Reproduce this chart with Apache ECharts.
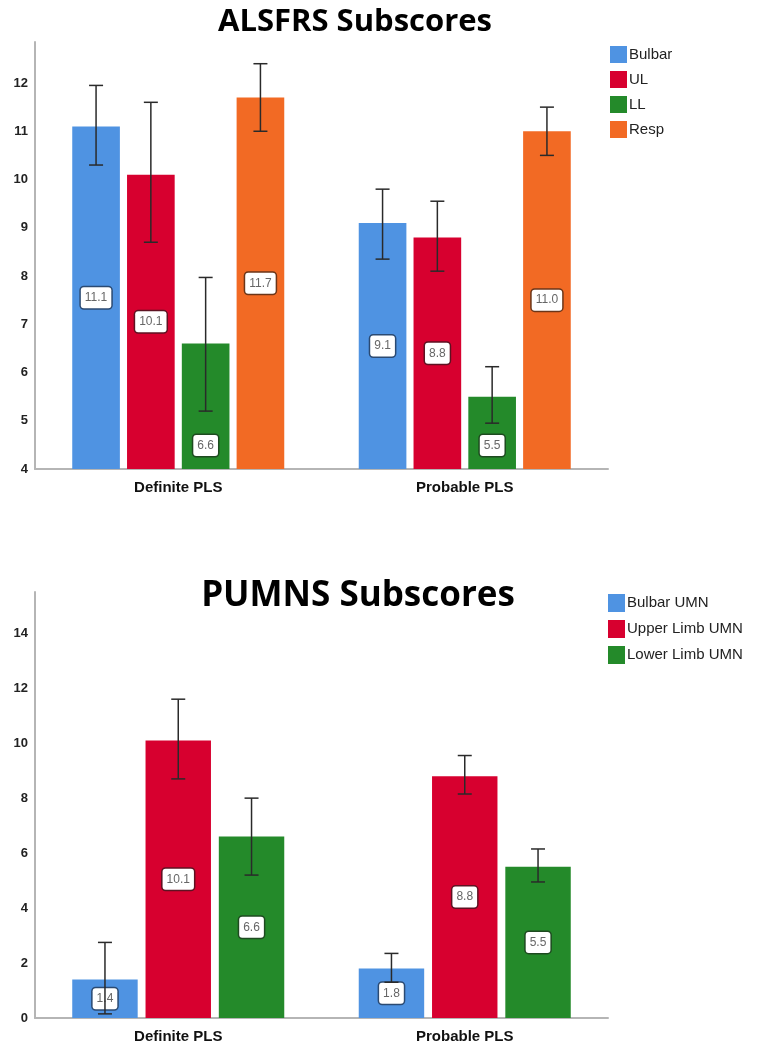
<!DOCTYPE html>
<html>
<head>
<meta charset="utf-8">
<script src="https://cdn.jsdelivr.net/npm/echarts@6/dist/echarts.min.js"></script>
<style>html,body{margin:0;padding:0;background:#fff}#c{width:777px;height:1060px}</style>
</head>
<body>
<div id="c"></div>
<script>
// ---- Data ----
const categories = ['Definite PLS', 'Probable PLS'];

// ALSFRS subscores (means)
const alsNames = ['Bulbar', 'UL', 'LL', 'Resp'];
const alsBulbar = [11.1, 9.1];
const alsUL = [10.1, 8.8];
const alsLL = [6.6, 5.5];
const alsResp = [11.7, 11.0];
// ALSFRS error bars [low, high]
const alsBulbarErr = [[10.3, 11.95], [8.35, 9.8]];
const alsULErr = [[8.7, 11.6], [8.1, 9.55]];
const alsLLErr = [[5.2, 7.97], [4.95, 6.12]];
const alsRespErr = [[11.0, 12.4], [10.5, 11.5]];
const alsTicks = [4, 5, 6, 7, 8, 9, 10, 11, 12];

// PUMNS subscores (means)
const pumNames = ['Bulbar UMN', 'Upper Limb UMN', 'Lower Limb UMN'];
const pumBulbar = [1.4, 1.8];
const pumUL = [10.1, 8.8];
const pumLL = [6.6, 5.5];
// PUMNS error bars [low, high]
const pumBulbarErr = [[0.15, 2.75], [1.3, 2.35]];
const pumULErr = [[8.7, 11.6], [8.15, 9.55]];
const pumLLErr = [[5.2, 8.0], [4.95, 6.15]];
const pumTicks = [0, 2, 4, 6, 8, 10, 12, 14];

// ---- Styles ----
const colors = { blue: '#4f93e2', red: '#d7002f', green: '#248a2a', orange: '#f26a24' };
const borders = { blue: '#2b4a72', red: '#5e1222', green: '#1e4a20', orange: '#6b3518' };
const catGap = 0.26;

function barSeries(name, data, color, border, gi, extraLabel) {
  return {
    type: 'bar', name: name, data: data,
    xAxisIndex: gi, yAxisIndex: gi,
    barCategoryGap: '26%', barGap: gi === 0 ? '15%' : '12%',
    itemStyle: { color: color },
    z: 2,
    label: Object.assign({
      show: true, position: 'inside',
      formatter: p => p.value.toFixed(1),
      color: '#666', fontSize: 12, fontFamily: 'Liberation Sans, Arial',
      backgroundColor: '#fff', borderColor: border, borderWidth: 1.5,
      borderRadius: 3, padding: [5, 4, 4, 4]
    }, extraLabel || {})
  };
}

function errSeries(err, idx, n, barGap, gi) {
  return {
    type: 'custom', name: 'err' + gi + '_' + idx,
    xAxisIndex: gi, yAxisIndex: gi, z: 3,
    silent: true,
    encode: { x: 0, y: [1, 2] },
    data: err.map((d, i) => [i, d[0], d[1]]),
    renderItem: function (params, api) {
      const c = api.value(0);
      const lo = api.coord([c, api.value(1)]);
      const hi = api.coord([c, api.value(2)]);
      const bw = api.size([1, 0])[0];
      const avail = bw * (1 - catGap);
      const w = avail / (n + (n - 1) * barGap);
      const total = n * w + (n - 1) * w * barGap;
      const x = lo[0] - total / 2 + idx * w * (1 + barGap) + w / 2;
      const cap = 7;
      const st = { stroke: '#2a2a2a', lineWidth: 1.5 };
      return {
        type: 'group', children: [
          { type: 'line', shape: { x1: x, y1: lo[1], x2: x, y2: hi[1] }, style: st },
          { type: 'line', shape: { x1: x - cap, y1: lo[1], x2: x + cap, y2: lo[1] }, style: st },
          { type: 'line', shape: { x1: x - cap, y1: hi[1], x2: x + cap, y2: hi[1] }, style: st }
        ]
      };
    }
  };
}

const axisLine = { show: true, lineStyle: { color: '#b5b5b5', width: 2 } };

const option = {
  animation: false,
  backgroundColor: '#fff',
  title: [
    { text: 'ALSFRS Subscores', left: 350, top: 2, textAlign: 'center',
      textStyle: { fontFamily: 'Open Sans', fontWeight: 'bold', fontSize: 31, color: '#000' } },
    { text: 'PUMNS Subscores', left: 353, top: 574, textAlign: 'center',
      textStyle: { fontFamily: 'Open Sans', fontWeight: 'bold', fontSize: 35, color: '#000' } }
  ],
  legend: [
    { data: alsNames, orient: 'vertical', left: 605, top: 41, itemWidth: 17, itemHeight: 17, itemGap: 8,
      icon: 'rect', textStyle: { fontSize: 15, color: '#222', fontFamily: 'Liberation Sans, Arial', padding: [0, 0, 0, -3] } },
    { data: pumNames, orient: 'vertical', left: 603, top: 589, itemWidth: 17, itemHeight: 18, itemGap: 8,
      icon: 'rect', textStyle: { fontSize: 15, color: '#222', fontFamily: 'Liberation Sans, Arial', padding: [0, 0, 0, -3] } }
  ],
  grid: [
    { left: 35, right: 169, top: 42, bottom: 591 },
    { left: 35, right: 169, top: 592, bottom: 42 }
  ],
  xAxis: [0, 1].map(gi => ({
    type: 'category', gridIndex: gi, data: categories,
    axisLine: axisLine, axisTick: { show: false },
    axisLabel: { fontSize: 15, fontWeight: 'bold', color: '#111', margin: 11, fontFamily: 'Liberation Sans, Arial' }
  })),
  yAxis: [
    { type: 'value', gridIndex: 0, min: alsTicks[0], max: 12.85, interval: 1,
      axisLine: axisLine, axisTick: { show: false }, splitLine: { show: false },
      axisLabel: { showMaxLabel: false, fontSize: 13, fontWeight: 'bold', color: '#222', margin: 7, fontFamily: 'Liberation Sans, Arial' } },
    { type: 'value', gridIndex: 1, min: pumTicks[0], max: 15.5, interval: 2,
      axisLine: axisLine, axisTick: { show: false }, splitLine: { show: false },
      axisLabel: { showMaxLabel: false, fontSize: 13, fontWeight: 'bold', color: '#222', margin: 7, fontFamily: 'Liberation Sans, Arial' } }
  ],
  series: [
    barSeries(alsNames[0], alsBulbar, colors.blue, borders.blue, 0),
    barSeries(alsNames[1], alsUL, colors.red, borders.red, 0),
    barSeries(alsNames[2], alsLL, colors.green, borders.green, 0, { position: 'insideBottom', distance: 13 }),
    barSeries(alsNames[3], alsResp, colors.orange, borders.orange, 0),
    errSeries(alsBulbarErr, 0, 4, 0.15, 0),
    errSeries(alsULErr, 1, 4, 0.15, 0),
    errSeries(alsLLErr, 2, 4, 0.15, 0),
    errSeries(alsRespErr, 3, 4, 0.15, 0),
    barSeries(pumNames[0], pumBulbar, colors.blue, borders.blue, 1),
    barSeries(pumNames[1], pumUL, colors.red, borders.red, 1),
    barSeries(pumNames[2], pumLL, colors.green, borders.green, 1),
    errSeries(pumBulbarErr, 0, 3, 0.12, 1),
    errSeries(pumULErr, 1, 3, 0.12, 1),
    errSeries(pumLLErr, 2, 3, 0.12, 1)
  ]
};

echarts.init(document.getElementById('c'), null, { renderer: 'canvas' }).setOption(option);
</script>
</body>
</html>
